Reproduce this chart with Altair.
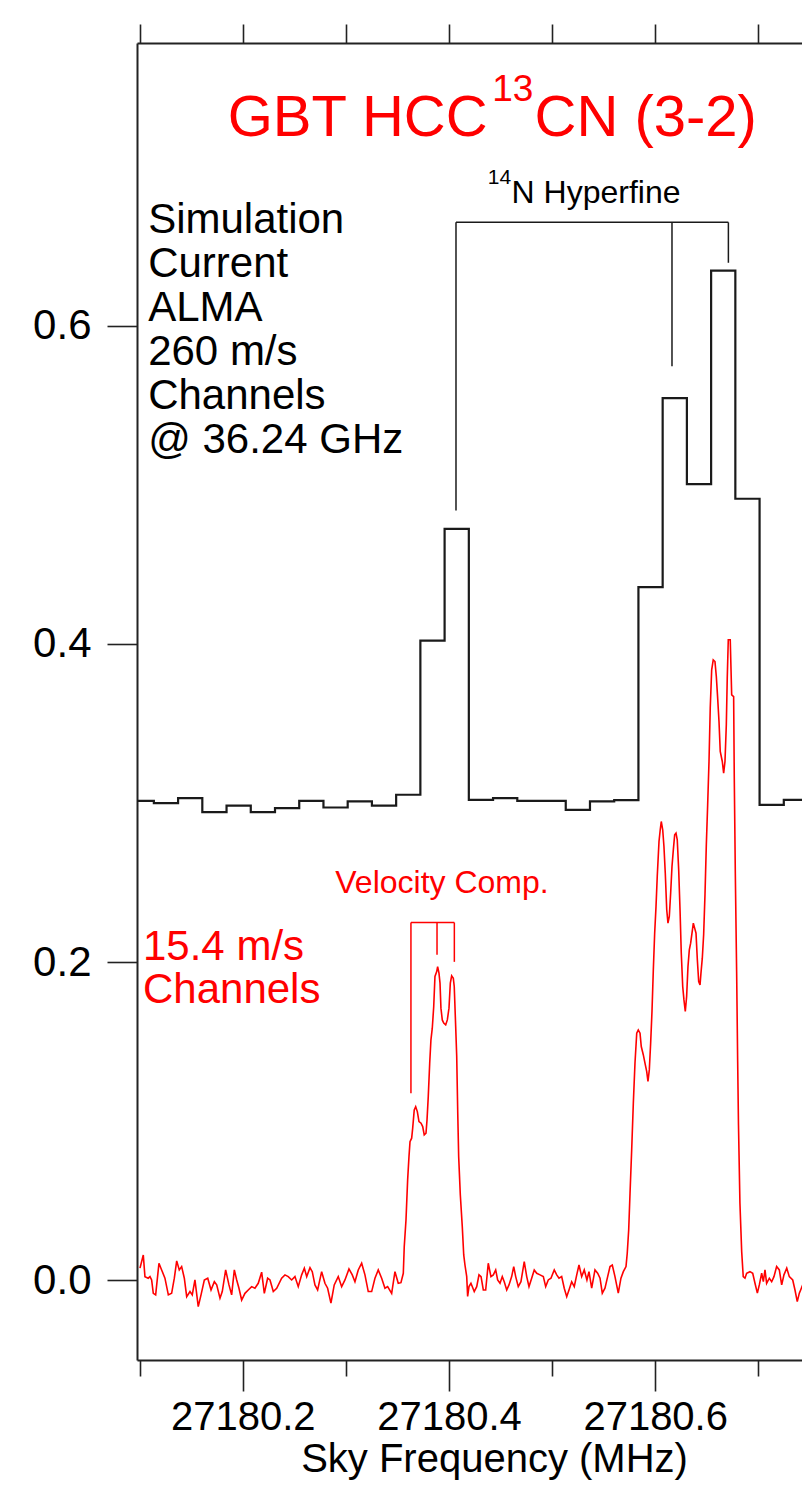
import altair as alt
import pandas as pd

# ---------------- data ----------------
# simulated ALMA spectrum (260 m/s channels, channel centres in MHz)
black_freq = [27180.0785, 27180.1020, 27180.1255, 27180.1490, 27180.1725, 27180.1960,
              27180.2195, 27180.2430, 27180.2665, 27180.2900, 27180.3135, 27180.3370,
              27180.3605, 27180.3840, 27180.4075, 27180.4310, 27180.4545, 27180.4780,
              27180.5015, 27180.5250, 27180.5485, 27180.5720, 27180.5955, 27180.6190,
              27180.6425, 27180.6660, 27180.6895, 27180.7130, 27180.7365, 27180.7600,
              27180.7835]
black_int = [0.3014, 0.3014, 0.2999, 0.3031, 0.2943, 0.2984,
             0.2943, 0.2968, 0.3014, 0.2972, 0.3010, 0.2984,
             0.3052, 0.4020, 0.4723, 0.3020, 0.3031, 0.3014,
             0.3014, 0.2957, 0.3010, 0.3018, 0.4357, 0.5545,
             0.5004, 0.6345, 0.4912, 0.2989, 0.3020, 0.3000,
             0.3000]

# GBT spectrum (15.4 m/s channels)
red_freq = [
    27180.1003, 27180.1035, 27180.1051, 27180.1083, 27180.1100, 27180.1116, 27180.1132, 27180.1155,
    27180.1187, 27180.1213, 27180.1245, 27180.1278, 27180.1310, 27180.1336, 27180.1359, 27180.1384,
    27180.1407, 27180.1433, 27180.1456, 27180.1488, 27180.1510, 27180.1536, 27180.1568, 27180.1595,
    27180.1627, 27180.1660, 27180.1692, 27180.1724, 27180.1747, 27180.1779, 27180.1801, 27180.1834,
    27180.1866, 27180.1892, 27180.1918, 27180.1941, 27180.1963, 27180.1989, 27180.2021, 27180.2053,
    27180.2086, 27180.2118, 27180.2150, 27180.2183, 27180.2209, 27180.2241, 27180.2264, 27180.2296,
    27180.2329, 27180.2377, 27180.2409, 27180.2441, 27180.2474, 27180.2506, 27180.2538, 27180.2571,
    27180.2597, 27180.2620, 27180.2652, 27180.2674, 27180.2700, 27180.2726, 27180.2765, 27180.2797,
    27180.2823, 27180.2855, 27180.2887, 27180.2926, 27180.2959, 27180.2991, 27180.3030, 27180.3062,
    27180.3088, 27180.3120, 27180.3153, 27180.3185, 27180.3217, 27180.3250, 27180.3282, 27180.3314,
    27180.3347, 27180.3379, 27180.3405, 27180.3444, 27180.3476, 27180.3508,
    27180.3534, 27180.3557, 27180.3566, 27180.3583, 27180.3599, 27180.3612, 27180.3622, 27180.3638,
    27180.3648, 27180.3663, 27180.3677, 27180.3693, 27180.3709, 27180.3729, 27180.3745, 27180.3760,
    27180.3777, 27180.3787, 27180.3799, 27180.3813, 27180.3825, 27180.3838, 27180.3852, 27180.3864,
    27180.3881, 27180.3890, 27180.3903, 27180.3913, 27180.3922, 27180.3935, 27180.3949, 27180.3968,
    27180.3984, 27180.4000, 27180.4013, 27180.4026, 27180.4042, 27180.4051, 27180.4065, 27180.4075,
    27180.4085, 27180.4094, 27180.4110, 27180.4129, 27180.4143, 27180.4155, 27180.4172, 27180.4181,
    27180.4194, 27180.4213, 27180.4245, 27180.4269, 27180.4291, 27180.4311, 27180.4333, 27180.4356,
    27180.4381, 27180.4407, 27180.4430, 27180.4453, 27180.4472, 27180.4495, 27180.4517, 27180.4536,
    27180.4560, 27180.4582, 27180.4608, 27180.4628, 27180.4647, 27180.4672, 27180.4698, 27180.4730,
    27180.4754, 27180.4776, 27180.4802, 27180.4827, 27180.4851, 27180.4883, 27180.4915, 27180.4938,
    27180.4963, 27180.4989, 27180.5021, 27180.5045, 27180.5067, 27180.5093, 27180.5118, 27180.5142,
    27180.5164, 27180.5190, 27180.5215, 27180.5239, 27180.5261, 27180.5287, 27180.5312, 27180.5338,
    27180.5358, 27180.5384, 27180.5416, 27180.5442, 27180.5465, 27180.5487, 27180.5513, 27180.5539,
    27180.5562, 27180.5584, 27180.5610, 27180.5642, 27180.5668, 27180.5691, 27180.5717,
    27180.5729, 27180.5743, 27180.5756, 27180.5772, 27180.5788, 27180.5804, 27180.5821, 27180.5836,
    27180.5853, 27180.5865, 27180.5885, 27180.5901, 27180.5918, 27180.5930, 27180.5943, 27180.5956,
    27180.5969, 27180.5982, 27180.5995, 27180.6008, 27180.6020, 27180.6037, 27180.6049, 27180.6059,
    27180.6073, 27180.6085, 27180.6098, 27180.6112, 27180.6124, 27180.6137, 27180.6150, 27180.6163,
    27180.6176, 27180.6189, 27180.6202, 27180.6214, 27180.6228, 27180.6241, 27180.6253, 27180.6267,
    27180.6279, 27180.6292, 27180.6305, 27180.6318, 27180.6331, 27180.6344, 27180.6357, 27180.6370,
    27180.6383, 27180.6396, 27180.6409, 27180.6422, 27180.6435,
    27180.6444, 27180.6457, 27180.6470, 27180.6483, 27180.6496, 27180.6509, 27180.6522, 27180.6534,
    27180.6548, 27180.6563, 27180.6580, 27180.6593, 27180.6606, 27180.6619, 27180.6631, 27180.6651,
    27180.6664, 27180.6677, 27180.6690, 27180.6699, 27180.6709, 27180.6728, 27180.6742, 27180.6761,
    27180.6767, 27180.6777, 27180.6790, 27180.6800, 27180.6808, 27180.6822, 27180.6839, 27180.6854,
    27180.6871, 27180.6887, 27180.6919, 27180.6946, 27180.6968, 27180.6991, 27180.7010, 27180.7033,
    27180.7049, 27180.7065, 27180.7081, 27180.7107, 27180.7130, 27180.7152, 27180.7178, 27180.7204,
    27180.7227, 27180.7249, 27180.7276, 27180.7301, 27180.7334, 27180.7356, 27180.7378, 27180.7398,
    27180.7411, 27180.7431, 27180.7453, 27180.7470, 27180.7495, 27180.7521]
red_int = [
    0.0077, 0.0160, 0.0024, 0.0014, 0.0024, 0.0003, -0.0081, -0.0091,
    0.0108, 0.0066, 0.0014, -0.0091, -0.0081, 0.0014, 0.0123, 0.0066,
    0.0087, 0.0014, -0.0102, -0.0070, -0.0091, 0.0003, -0.0165, -0.0091,
    0.0003, 0.0014, -0.0060, -0.0008, -0.0028, -0.0112, -0.0070, 0.0066,
    -0.0028, -0.0091, 0.0066, 0.0003, -0.0049, -0.0123, -0.0081, -0.0060,
    -0.0039, -0.0049, -0.0018, 0.0052, -0.0081, 0.0014, 0.0003, -0.0070,
    -0.0049, 0.0014, 0.0035, 0.0024, 0.0003, 0.0024, -0.0039, 0.0035,
    0.0077, 0.0024, 0.0080, 0.0055, -0.0028, -0.0060, 0.0055, -0.0018,
    -0.0049, -0.0143, -0.0028, 0.0024, -0.0039, 0.0003, 0.0072, 0.0035,
    -0.0008, 0.0066, 0.0108, 0.0035, -0.0070, -0.0070, 0.0014, 0.0066,
    0.0014, -0.0049, -0.0039, -0.0081, 0.0055, -0.0018,
    -0.0014, 0.0045, 0.0212, 0.0380, 0.0632, 0.0778, 0.0872, 0.0894,
    0.0957, 0.1072, 0.1092, 0.1061, 0.0998, 0.0988, 0.0967, 0.0915,
    0.0925, 0.1009, 0.1155, 0.1365, 0.1512, 0.1585, 0.1721, 0.1910,
    0.1941, 0.1972, 0.1931, 0.1868, 0.1711, 0.1637, 0.1617, 0.1606,
    0.1637, 0.1711, 0.1868, 0.1914, 0.1899, 0.1847, 0.1595, 0.1407,
    0.1051, 0.0778, 0.0537, 0.0338, 0.0160, 0.0097, 0.0024, -0.0100,
    -0.0039, -0.0018, -0.0070, -0.0039, 0.0035, 0.0024, -0.0060, -0.0060,
    0.0108, 0.0024, 0.0035, 0.0066, 0.0003, -0.0018, 0.0024, -0.0008,
    -0.0060, -0.0028, 0.0024, 0.0087, 0.0024, -0.0039, -0.0008, 0.0118,
    0.0024, -0.0039, 0.0014, 0.0066, 0.0045, 0.0035, 0.0024, -0.0039,
    0.0003, 0.0014, 0.0066, 0.0035, 0.0014, 0.0024, -0.0049, -0.0102,
    -0.0060, -0.0008, -0.0039, 0.0035, 0.0097, 0.0024, 0.0066, 0.0003,
    0.0055, -0.0049, 0.0066, 0.0045, 0.0014, -0.0080, -0.0049, 0.0024,
    0.0087, 0.0097, 0.0024, -0.0080, 0.0014, 0.0055, 0.0087,
    0.0171, 0.0317, 0.0548, 0.0820, 0.1114, 0.1365, 0.1554, 0.1574,
    0.1554, 0.1470, 0.1417, 0.1365, 0.1312, 0.1250, 0.1323, 0.1491,
    0.1690, 0.1952, 0.2182, 0.2349, 0.2538, 0.2758, 0.2832, 0.2884,
    0.2832, 0.2727, 0.2559, 0.2329, 0.2245, 0.2287, 0.2434, 0.2601,
    0.2706, 0.2800, 0.2811, 0.2769, 0.2580, 0.2329, 0.2057, 0.1847,
    0.1763, 0.1690, 0.1784, 0.1972, 0.2077, 0.2119, 0.2182, 0.2245,
    0.2214, 0.2182, 0.2014, 0.1878, 0.1857,
    0.1931, 0.2025, 0.2172, 0.2423, 0.2737, 0.2989, 0.3261, 0.3597,
    0.3837, 0.3900, 0.3889, 0.3795, 0.3659, 0.3512, 0.3324, 0.3261,
    0.3188, 0.3261, 0.3492, 0.3785, 0.4026, 0.4026, 0.3680, 0.3669,
    0.3167, 0.2570, 0.1941, 0.1375, 0.0977, 0.0485, 0.0181, 0.0024,
    0.0014, 0.0045, 0.0055, 0.0045, -0.0018, -0.0080, -0.0028, 0.0045,
    -0.0008, 0.0066, -0.0018, 0.0014, -0.0008, 0.0024, 0.0087, 0.0066,
    -0.0028, 0.0035, 0.0077, 0.0024, 0.0003, -0.0060, -0.0133, -0.0080,
    -0.0060, -0.0028, 0.0024, 0.0003, -0.0028, 0.0000]

x_tick_values = [27180.1, 27180.2, 27180.3, 27180.4, 27180.5, 27180.6, 27180.7]
y_tick_values = [0.0, 0.2, 0.4, 0.6]

# bracket annotations
hf_x = [27180.4068, 27180.6163, 27180.6710]
hf_top = 0.6649
hf_end = [0.4838, 0.5744, 0.6395]
vc_x = [27180.3631, 27180.3884, 27180.4052]
vc_top = 0.2249
vc_end = [0.1177, 0.2046, 0.2002]

title_parts = ["GBT HCC", "13", "CN (3-2)"]
title_x = [27180.1853, 27180.4420, 27180.4830]
title_y = [0.7189, 0.7409, 0.7189]
title_size = [58, 37, 58]

hf_labels = ["14", "N Hyperfine"]
hf_label_x = [27180.4376, 27180.4607]
hf_label_y = [0.6892, 0.6771]
hf_label_size = [21, 32]

sim_text = "Simulation\nCurrent\nALMA\n260 m/s\nChannels\n@ 36.24 GHz"
gbt_text = "15.4 m/s\nChannels"

# ---------------- chart ----------------
FONT = "Liberation Sans"
X_DOMAIN = [27180.0974, 27180.7424]
Y_DOMAIN = [-0.0500, 0.7776]
xs = alt.Scale(domain=X_DOMAIN, nice=False, zero=False)
ys = alt.Scale(domain=Y_DOMAIN, nice=False, zero=False)

black_df = pd.DataFrame({"f": black_freq, "v": black_int})
red_df = pd.DataFrame({"f": red_freq, "v": red_int})

def bracket(xs_, top, ends):
    rows = [{"x": xs_[0], "x2": xs_[-1], "y": top, "y2": top}]
    for xi, e in zip(xs_, ends):
        rows.append({"x": xi, "x2": xi, "y": top, "y2": e})
    return pd.DataFrame(rows)

hf_df = bracket(hf_x, hf_top, hf_end)
vc_df = bracket(vc_x, vc_top, vc_end)

major_test = "round(datum.value*10) % 2 == 0"
bottom_axis = alt.Axis(
    values=x_tick_values,
    tickSize={"condition": {"test": major_test, "value": 31}, "value": 16},
    labelExpr=f"{major_test} ? format(datum.value, '.1f') : ''",
    labelOverlap=False, labelPadding=6, labelFontSize=40,
    title="Sky Frequency (MHz)", titleFontSize=40, titleFontWeight="normal",
    titleX=357, titleY=79, titleBaseline="top", titleAlign="center",
    grid=False,
)
top_axis = alt.Axis(orient="top", values=x_tick_values, tickSize=19, labels=False,
                    title=None, grid=False)
left_axis = alt.Axis(orient="left", values=y_tick_values, format=".1f", tickSize=30,
                     labelPadding=16, labelFontSize=42, title=None, grid=False)

black = alt.Chart(black_df).mark_line(interpolate="step", color="#1a1a1a",
                                      strokeWidth=2.2, clip=True).encode(
    x=alt.X("f:Q", scale=xs, axis=bottom_axis),
    y=alt.Y("v:Q", scale=ys, axis=left_axis),
)
red = alt.Chart(red_df).mark_line(color="#ff0000", strokeWidth=1.6, clip=True).encode(
    x=alt.X("f:Q", scale=xs, axis=top_axis),
    y=alt.Y("v:Q", scale=ys, axis=None),
)

def rules(df, color):
    return alt.Chart(df).mark_rule(color=color, strokeWidth=1.5).encode(
        x=alt.X("x:Q", scale=xs, axis=None), x2="x2:Q",
        y=alt.Y("y:Q", scale=ys, axis=None), y2="y2:Q",
    )

hf_rules = rules(hf_df, "#1a1a1a")
vc_rules = rules(vc_df, "#ff0000")

def texts(df, color, align="left"):
    return alt.Chart(df).mark_text(align=align, baseline="alphabetic", font=FONT,
                                   color=color).encode(
        x=alt.X("x:Q", scale=xs, axis=None),
        y=alt.Y("y:Q", scale=ys, axis=None),
        text="t:N",
        size=alt.Size("s:Q", scale=None, legend=None),
    )

title_df = pd.DataFrame({"t": title_parts, "x": title_x, "y": title_y, "s": title_size})
hf_lab_df = pd.DataFrame({"t": hf_labels, "x": hf_label_x, "y": hf_label_y, "s": hf_label_size})
vc_lab_df = pd.DataFrame({"t": ["Velocity Comp."], "x": [27180.3932], "y": [0.2434], "s": [32]})

title_layer = texts(title_df, "#ff0000")
hf_lab_layer = texts(hf_lab_df, "#000000")
vc_lab_layer = texts(vc_lab_df, "#ff0000", align="center")

sim_layer = alt.Chart(pd.DataFrame({"t": [sim_text], "x": [27180.1082], "y": [0.6582]})).mark_text(
    align="left", baseline="alphabetic", font=FONT, fontSize=42, lineBreak="\n",
    lineHeight=44, color="#000000").encode(
    x=alt.X("x:Q", scale=xs, axis=None), y=alt.Y("y:Q", scale=ys, axis=None), text="t:N")

gbt_layer = alt.Chart(pd.DataFrame({"t": [gbt_text], "x": [27180.1032], "y": [0.2015]})).mark_text(
    align="left", baseline="alphabetic", font=FONT, fontSize=42, lineBreak="\n",
    lineHeight=43.5, color="#ff0000").encode(
    x=alt.X("x:Q", scale=xs, axis=None), y=alt.Y("y:Q", scale=ys, axis=None), text="t:N")

chart = alt.layer(
    black, red, hf_rules, vc_rules, title_layer, hf_lab_layer, vc_lab_layer, sim_layer, gbt_layer
).resolve_axis(x="independent", y="independent").properties(
    width=665, height=1317,
    padding={"left": 129, "top": 35, "right": 0, "bottom": 123},
    autosize=alt.AutoSizeParams(type="none"),
).configure_view(stroke=None).configure_axis(
    labelFont=FONT, titleFont=FONT, labelColor="#000000", titleColor="#000000",
    domainColor="#222222", domainWidth=2, tickColor="#222222", tickWidth=1.6,
)

chart.save("out.html", embed_options={"renderer": "svg", "actions": False})
